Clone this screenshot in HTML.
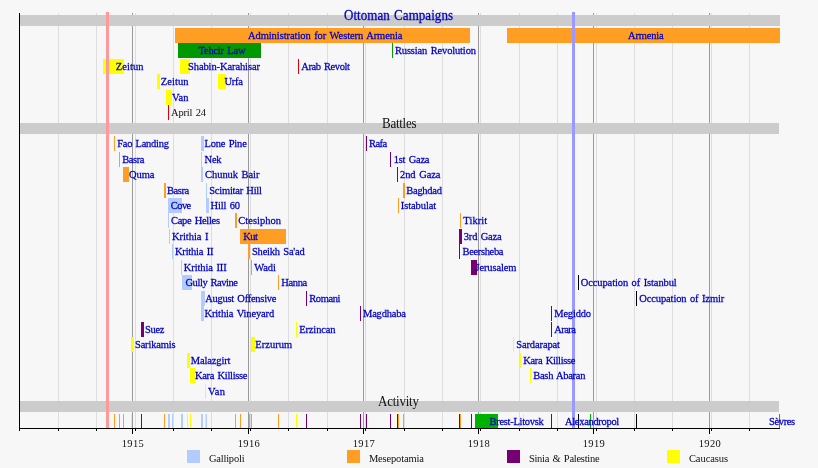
<!DOCTYPE html>
<html><head><meta charset="utf-8"><title>Ottoman Campaigns</title>
<style>
html,body{margin:0;padding:0;background:#f7f7f7;}
body{width:818px;height:468px;overflow:hidden;}
svg{display:block;font-family:"Liberation Serif",serif;word-spacing:1px;}
rect{shape-rendering:crispEdges;}
</style></head><body>
<svg width="818" height="468" viewBox="0 0 818 468">
<rect x="0" y="0" width="818" height="468" fill="#f7f7f7"/>
<rect x="58" y="13" width="1" height="415" fill="#dddddd"/>
<rect x="96" y="13" width="1" height="415" fill="#dddddd"/>
<rect x="135" y="13" width="1" height="415" fill="#dddddd"/>
<rect x="173" y="13" width="1" height="415" fill="#dddddd"/>
<rect x="211" y="13" width="1" height="415" fill="#dddddd"/>
<rect x="250" y="13" width="1" height="415" fill="#dddddd"/>
<rect x="288" y="13" width="1" height="415" fill="#dddddd"/>
<rect x="327" y="13" width="1" height="415" fill="#dddddd"/>
<rect x="365" y="13" width="1" height="415" fill="#dddddd"/>
<rect x="404" y="13" width="1" height="415" fill="#dddddd"/>
<rect x="442" y="13" width="1" height="415" fill="#dddddd"/>
<rect x="480" y="13" width="1" height="415" fill="#dddddd"/>
<rect x="519" y="13" width="1" height="415" fill="#dddddd"/>
<rect x="557" y="13" width="1" height="415" fill="#dddddd"/>
<rect x="596" y="13" width="1" height="415" fill="#dddddd"/>
<rect x="634" y="13" width="1" height="415" fill="#dddddd"/>
<rect x="672" y="13" width="1" height="415" fill="#dddddd"/>
<rect x="711" y="13" width="1" height="415" fill="#dddddd"/>
<rect x="749" y="13" width="1" height="415" fill="#dddddd"/>
<rect x="132" y="13" width="1" height="415" fill="#999999"/>
<rect x="248" y="13" width="1" height="415" fill="#999999"/>
<rect x="363" y="13" width="1" height="415" fill="#999999"/>
<rect x="478" y="13" width="1" height="415" fill="#999999"/>
<rect x="593" y="13" width="1" height="415" fill="#999999"/>
<rect x="709" y="13" width="1" height="415" fill="#999999"/>
<rect x="20" y="15" width="760" height="11" fill="#cccccc"/>
<rect x="20" y="123" width="759" height="11" fill="#cccccc"/>
<rect x="20" y="401" width="759" height="11" fill="#cccccc"/>
<rect x="175" y="28" width="295" height="15" fill="#ff9e23"/>
<rect x="507" y="28" width="273" height="15" fill="#ff9e23"/>
<rect x="178" y="43" width="83" height="15" fill="#009900"/>
<rect x="392" y="43" width="1" height="15" fill="#00a000"/>
<rect x="103" y="59" width="21" height="15" fill="#ffff00"/>
<rect x="180" y="59" width="10" height="15" fill="#ffff00"/>
<rect x="298" y="59" width="1" height="15" fill="#e00000"/>
<rect x="157" y="74" width="3" height="15" fill="#ffff00"/>
<rect x="218" y="74" width="8" height="15" fill="#ffff00"/>
<rect x="166" y="90" width="6" height="15" fill="#ffff00"/>
<rect x="168" y="105" width="1" height="15" fill="#e00000"/>
<rect x="114" y="136" width="1" height="15" fill="#ff9e23"/>
<rect x="201" y="136" width="3" height="15" fill="#b2ccff"/>
<rect x="366" y="136" width="1" height="15" fill="#760072"/>
<rect x="119" y="152" width="1" height="15" fill="#ff9e23"/>
<rect x="201" y="152" width="1" height="15" fill="#b2ccff"/>
<rect x="390" y="152" width="1" height="15" fill="#760072"/>
<rect x="123" y="167" width="6" height="15" fill="#ff9e23"/>
<rect x="201" y="167" width="2" height="15" fill="#b2ccff"/>
<rect x="397" y="167" width="1" height="15" fill="#760072"/>
<rect x="164" y="183" width="2" height="15" fill="#ff9e23"/>
<rect x="206" y="183" width="1" height="15" fill="#b2ccff"/>
<rect x="403" y="183" width="2" height="15" fill="#ff9e23"/>
<rect x="168" y="198" width="14" height="15" fill="#b2ccff"/>
<rect x="206" y="198" width="3" height="15" fill="#b2ccff"/>
<rect x="398" y="198" width="1" height="15" fill="#ff9e23"/>
<rect x="168" y="213" width="1" height="15" fill="#b2ccff"/>
<rect x="235" y="213" width="2" height="15" fill="#ff9e23"/>
<rect x="460" y="213" width="1" height="15" fill="#ff9e23"/>
<rect x="169" y="229" width="1" height="15" fill="#b2ccff"/>
<rect x="240" y="229" width="46" height="15" fill="#ff9e23"/>
<rect x="459" y="229" width="3" height="15" fill="#760072"/>
<rect x="172" y="244" width="1" height="15" fill="#b2ccff"/>
<rect x="248" y="244" width="2" height="15" fill="#ff9e23"/>
<rect x="459" y="244" width="1" height="15" fill="#760072"/>
<rect x="181" y="260" width="1" height="15" fill="#b2ccff"/>
<rect x="251" y="260" width="1" height="15" fill="#ff9e23"/>
<rect x="471" y="260" width="6" height="15" fill="#760072"/>
<rect x="182" y="275" width="10" height="15" fill="#b2ccff"/>
<rect x="278" y="275" width="1" height="15" fill="#ff9e23"/>
<rect x="578" y="275" width="1" height="15" fill="#000000"/>
<rect x="201" y="291" width="4" height="15" fill="#b2ccff"/>
<rect x="306" y="291" width="1" height="15" fill="#760072"/>
<rect x="636" y="291" width="1" height="15" fill="#000000"/>
<rect x="201" y="306" width="3" height="15" fill="#b2ccff"/>
<rect x="360" y="306" width="1" height="15" fill="#760072"/>
<rect x="551" y="306" width="1" height="15" fill="#760072"/>
<rect x="141" y="322" width="3" height="15" fill="#760072"/>
<rect x="296" y="322" width="1" height="15" fill="#ffff00"/>
<rect x="551" y="322" width="1" height="15" fill="#760072"/>
<rect x="131" y="337" width="3" height="15" fill="#ffff00"/>
<rect x="251" y="337" width="4" height="15" fill="#ffff00"/>
<rect x="513" y="337" width="1" height="15" fill="#ffff00"/>
<rect x="187" y="353" width="3" height="15" fill="#ffff00"/>
<rect x="520" y="353" width="1" height="15" fill="#ffff00"/>
<rect x="190" y="368" width="5" height="15" fill="#ffff00"/>
<rect x="530" y="368" width="1" height="15" fill="#ffff00"/>
<rect x="205" y="384" width="1" height="15" fill="#ffff00"/>
<rect x="114" y="414" width="1" height="14" fill="#ff9e23"/>
<rect x="119" y="414" width="1" height="14" fill="#ff9e23"/>
<rect x="123" y="414" width="1" height="14" fill="#ff9e23"/>
<rect x="131" y="414" width="1" height="14" fill="#ffff00"/>
<rect x="141" y="414" width="1" height="14" fill="#760072"/>
<rect x="164" y="414" width="1" height="14" fill="#ff9e23"/>
<rect x="168" y="414" width="2" height="14" fill="#b2ccff"/>
<rect x="172" y="414" width="1" height="14" fill="#b2ccff"/>
<rect x="181" y="414" width="2" height="14" fill="#b2ccff"/>
<rect x="187" y="414" width="1" height="14" fill="#ffff00"/>
<rect x="190" y="414" width="1" height="14" fill="#ffff00"/>
<rect x="201" y="414" width="2" height="14" fill="#b2ccff"/>
<rect x="205" y="414" width="1" height="14" fill="#ffff00"/>
<rect x="206" y="414" width="1" height="14" fill="#b2ccff"/>
<rect x="235" y="414" width="1" height="14" fill="#ff9e23"/>
<rect x="240" y="414" width="1" height="14" fill="#ff9e23"/>
<rect x="249" y="414" width="1" height="14" fill="#ff9e23"/>
<rect x="251" y="414" width="1" height="14" fill="#ff9e23"/>
<rect x="278" y="414" width="1" height="14" fill="#ff9e23"/>
<rect x="296" y="414" width="1" height="14" fill="#ffff00"/>
<rect x="306" y="414" width="1" height="14" fill="#760072"/>
<rect x="360" y="414" width="1" height="14" fill="#760072"/>
<rect x="366" y="414" width="1" height="14" fill="#760072"/>
<rect x="390" y="414" width="1" height="14" fill="#760072"/>
<rect x="397" y="414" width="1" height="14" fill="#760072"/>
<rect x="398" y="414" width="1" height="14" fill="#ff9e23"/>
<rect x="403" y="414" width="1" height="14" fill="#ff9e23"/>
<rect x="459" y="414" width="1" height="14" fill="#760072"/>
<rect x="460" y="414" width="1" height="14" fill="#ff9e23"/>
<rect x="471" y="414" width="1" height="14" fill="#760072"/>
<rect x="475" y="414" width="23" height="14" fill="#00b200"/>
<rect x="523" y="414" width="1" height="14" fill="#ffff00"/>
<rect x="551" y="414" width="1" height="14" fill="#760072"/>
<rect x="578" y="414" width="1" height="14" fill="#000000"/>
<rect x="590" y="414" width="1" height="14" fill="#00b200"/>
<rect x="636" y="414" width="1" height="14" fill="#000000"/>
<rect x="779" y="414" width="1" height="14" fill="#00b200"/>
<rect x="106" y="12" width="3" height="416" fill="#ff9999"/>
<rect x="572" y="12" width="3" height="416" fill="#9999ff"/>
<rect x="19" y="13" width="1" height="416" fill="#000"/>
<rect x="19" y="428" width="761" height="1" fill="#000"/>
<rect x="58" y="429" width="1" height="2" fill="#000"/>
<rect x="96" y="429" width="1" height="2" fill="#000"/>
<rect x="135" y="429" width="1" height="2" fill="#000"/>
<rect x="173" y="429" width="1" height="2" fill="#000"/>
<rect x="211" y="429" width="1" height="2" fill="#000"/>
<rect x="250" y="429" width="1" height="2" fill="#000"/>
<rect x="288" y="429" width="1" height="2" fill="#000"/>
<rect x="327" y="429" width="1" height="2" fill="#000"/>
<rect x="365" y="429" width="1" height="2" fill="#000"/>
<rect x="404" y="429" width="1" height="2" fill="#000"/>
<rect x="442" y="429" width="1" height="2" fill="#000"/>
<rect x="480" y="429" width="1" height="2" fill="#000"/>
<rect x="519" y="429" width="1" height="2" fill="#000"/>
<rect x="557" y="429" width="1" height="2" fill="#000"/>
<rect x="596" y="429" width="1" height="2" fill="#000"/>
<rect x="634" y="429" width="1" height="2" fill="#000"/>
<rect x="672" y="429" width="1" height="2" fill="#000"/>
<rect x="711" y="429" width="1" height="2" fill="#000"/>
<rect x="749" y="429" width="1" height="2" fill="#000"/>
<rect x="132" y="429" width="1" height="5" fill="#000"/>
<rect x="248" y="429" width="1" height="5" fill="#000"/>
<rect x="363" y="429" width="1" height="5" fill="#000"/>
<rect x="478" y="429" width="1" height="5" fill="#000"/>
<rect x="593" y="429" width="1" height="5" fill="#000"/>
<rect x="709" y="429" width="1" height="5" fill="#000"/>
<rect x="19" y="429" width="1" height="2" fill="#000"/>
<text transform="translate(248 39) scale(1 1.07)" fill="#0000c0" stroke="#0000c0" stroke-width="0.25" font-size="10.5" textLength="154.5" lengthAdjust="spacing">Administration for Western Armenia</text>
<text transform="translate(628 39) scale(1 1.07)" fill="#0000c0" stroke="#0000c0" stroke-width="0.25" font-size="10.5" textLength="35.75" lengthAdjust="spacing">Armenia</text>
<text transform="translate(198.5 54) scale(1 1.07)" fill="#0000c0" stroke="#0000c0" stroke-width="0.25" font-size="10.5" textLength="47.0" lengthAdjust="spacing">Tehcir Law</text>
<text transform="translate(395 54) scale(1 1.07)" fill="#0000c0" stroke="#0000c0" stroke-width="0.25" font-size="10.5" textLength="81.0" lengthAdjust="spacing">Russian Revolution</text>
<text transform="translate(115.75 70) scale(1 1.07)" fill="#0000c0" stroke="#0000c0" stroke-width="0.25" font-size="10.5" textLength="27.75" lengthAdjust="spacing">Zeitun</text>
<text transform="translate(188 70) scale(1 1.07)" fill="#0000c0" stroke="#0000c0" stroke-width="0.25" font-size="10.5" textLength="72.0" lengthAdjust="spacing">Shabin-Karahisar</text>
<text transform="translate(301.25 70) scale(1 1.07)" fill="#0000c0" stroke="#0000c0" stroke-width="0.25" font-size="10.5" textLength="48.75" lengthAdjust="spacing">Arab Revolt</text>
<text transform="translate(160.75 85) scale(1 1.07)" fill="#0000c0" stroke="#0000c0" stroke-width="0.25" font-size="10.5" textLength="27.75" lengthAdjust="spacing">Zeitun</text>
<text transform="translate(224.5 85) scale(1 1.07)" fill="#0000c0" stroke="#0000c0" stroke-width="0.25" font-size="10.5" textLength="18.5" lengthAdjust="spacing">Urfa</text>
<text transform="translate(172 101) scale(1 1.07)" fill="#0000c0" stroke="#0000c0" stroke-width="0.25" font-size="10.5" textLength="16.5" lengthAdjust="spacing">Van</text>
<text transform="translate(171 116) scale(1 1.07)" fill="#111111" font-size="10.5" textLength="35.0" lengthAdjust="spacing">April 24</text>
<text transform="translate(117.25 147) scale(1 1.07)" fill="#0000c0" stroke="#0000c0" stroke-width="0.25" font-size="10.5" textLength="51.75" lengthAdjust="spacing">Fao Landing</text>
<text transform="translate(204.5 147) scale(1 1.07)" fill="#0000c0" stroke="#0000c0" stroke-width="0.25" font-size="10.5" textLength="42.3" lengthAdjust="spacing">Lone Pine</text>
<text transform="translate(369 147) scale(1 1.07)" fill="#0000c0" stroke="#0000c0" stroke-width="0.25" font-size="10.5" textLength="18.25" lengthAdjust="spacing">Rafa</text>
<text transform="translate(122.25 163) scale(1 1.07)" fill="#0000c0" stroke="#0000c0" stroke-width="0.25" font-size="10.5" textLength="22.25" lengthAdjust="spacing">Basra</text>
<text transform="translate(204.6 163) scale(1 1.07)" fill="#0000c0" stroke="#0000c0" stroke-width="0.25" font-size="10.5" textLength="17.0" lengthAdjust="spacing">Nek</text>
<text transform="translate(393.75 163) scale(1 1.07)" fill="#0000c0" stroke="#0000c0" stroke-width="0.25" font-size="10.5" textLength="35.75" lengthAdjust="spacing">1st Gaza</text>
<text transform="translate(129 178) scale(1 1.07)" fill="#0000c0" stroke="#0000c0" stroke-width="0.25" font-size="10.5" textLength="25.5" lengthAdjust="spacing">Quma</text>
<text transform="translate(205.1 178) scale(1 1.07)" fill="#0000c0" stroke="#0000c0" stroke-width="0.25" font-size="10.5" textLength="54.3" lengthAdjust="spacing">Chunuk Bair</text>
<text transform="translate(400 178) scale(1 1.07)" fill="#0000c0" stroke="#0000c0" stroke-width="0.25" font-size="10.5" textLength="40.5" lengthAdjust="spacing">2nd Gaza</text>
<text transform="translate(167 194) scale(1 1.07)" fill="#0000c0" stroke="#0000c0" stroke-width="0.25" font-size="10.5" textLength="22.25" lengthAdjust="spacing">Basra</text>
<text transform="translate(209.25 194) scale(1 1.07)" fill="#0000c0" stroke="#0000c0" stroke-width="0.25" font-size="10.5" textLength="52.75" lengthAdjust="spacing">Scimitar Hill</text>
<text transform="translate(406.25 194) scale(1 1.07)" fill="#0000c0" stroke="#0000c0" stroke-width="0.25" font-size="10.5" textLength="35.75" lengthAdjust="spacing">Baghdad</text>
<text transform="translate(170.75 209) scale(1 1.07)" fill="#0000c0" stroke="#0000c0" stroke-width="0.25" font-size="10.5" textLength="20.5" lengthAdjust="spacing">Cove</text>
<text transform="translate(210.5 209) scale(1 1.07)" fill="#0000c0" stroke="#0000c0" stroke-width="0.25" font-size="10.5" textLength="29.5" lengthAdjust="spacing">Hill 60</text>
<text transform="translate(400.75 209) scale(1 1.07)" fill="#0000c0" stroke="#0000c0" stroke-width="0.25" font-size="10.5" textLength="35.5" lengthAdjust="spacing">Istabulat</text>
<text transform="translate(171 224) scale(1 1.07)" fill="#0000c0" stroke="#0000c0" stroke-width="0.25" font-size="10.5" textLength="49.0" lengthAdjust="spacing">Cape Helles</text>
<text transform="translate(238.25 224) scale(1 1.07)" fill="#0000c0" stroke="#0000c0" stroke-width="0.25" font-size="10.5" textLength="42.75" lengthAdjust="spacing">Ctesiphon</text>
<text transform="translate(463.25 224) scale(1 1.07)" fill="#0000c0" stroke="#0000c0" stroke-width="0.25" font-size="10.5" textLength="24.0" lengthAdjust="spacing">Tikrit</text>
<text transform="translate(172 240) scale(1 1.07)" fill="#0000c0" stroke="#0000c0" stroke-width="0.25" font-size="10.5" textLength="36.5" lengthAdjust="spacing">Krithia I</text>
<text transform="translate(243.25 240) scale(1 1.07)" fill="#0000c0" stroke="#0000c0" stroke-width="0.25" font-size="10.5" textLength="14.75" lengthAdjust="spacing">Kut</text>
<text transform="translate(463.75 240) scale(1 1.07)" fill="#0000c0" stroke="#0000c0" stroke-width="0.25" font-size="10.5" textLength="38.0" lengthAdjust="spacing">3rd Gaza</text>
<text transform="translate(175 255) scale(1 1.07)" fill="#0000c0" stroke="#0000c0" stroke-width="0.25" font-size="10.5" textLength="38.5" lengthAdjust="spacing">Krithia II</text>
<text transform="translate(252 255) scale(1 1.07)" fill="#0000c0" stroke="#0000c0" stroke-width="0.25" font-size="10.5" textLength="52.75" lengthAdjust="spacing">Sheikh Sa'ad</text>
<text transform="translate(462.5 255) scale(1 1.07)" fill="#0000c0" stroke="#0000c0" stroke-width="0.25" font-size="10.5" textLength="41.0" lengthAdjust="spacing">Beersheba</text>
<text transform="translate(183.75 271) scale(1 1.07)" fill="#0000c0" stroke="#0000c0" stroke-width="0.25" font-size="10.5" textLength="43.0" lengthAdjust="spacing">Krithia III</text>
<text transform="translate(254.25 271) scale(1 1.07)" fill="#0000c0" stroke="#0000c0" stroke-width="0.25" font-size="10.5" textLength="21.75" lengthAdjust="spacing">Wadi</text>
<text transform="translate(475.5 271) scale(1 1.07)" fill="#0000c0" stroke="#0000c0" stroke-width="0.25" font-size="10.5" textLength="41.0" lengthAdjust="spacing">Jerusalem</text>
<text transform="translate(185.5 286) scale(1 1.07)" fill="#0000c0" stroke="#0000c0" stroke-width="0.25" font-size="10.5" textLength="52.5" lengthAdjust="spacing">Gully Ravine</text>
<text transform="translate(281.25 286) scale(1 1.07)" fill="#0000c0" stroke="#0000c0" stroke-width="0.25" font-size="10.5" textLength="26.0" lengthAdjust="spacing">Hanna</text>
<text transform="translate(580.75 286) scale(1 1.07)" fill="#0000c0" stroke="#0000c0" stroke-width="0.25" font-size="10.5" textLength="96.0" lengthAdjust="spacing">Occupation of Istanbul</text>
<text transform="translate(205.2 302) scale(1 1.07)" fill="#0000c0" stroke="#0000c0" stroke-width="0.25" font-size="10.5" textLength="71.3" lengthAdjust="spacing">August Offensive</text>
<text transform="translate(309.25 302) scale(1 1.07)" fill="#0000c0" stroke="#0000c0" stroke-width="0.25" font-size="10.5" textLength="31.25" lengthAdjust="spacing">Romani</text>
<text transform="translate(639.25 302) scale(1 1.07)" fill="#0000c0" stroke="#0000c0" stroke-width="0.25" font-size="10.5" textLength="85.0" lengthAdjust="spacing">Occupation of Izmir</text>
<text transform="translate(204.5 317) scale(1 1.07)" fill="#0000c0" stroke="#0000c0" stroke-width="0.25" font-size="10.5" textLength="69.75" lengthAdjust="spacing">Krithia Vineyard</text>
<text transform="translate(363 317) scale(1 1.07)" fill="#0000c0" stroke="#0000c0" stroke-width="0.25" font-size="10.5" textLength="43.0" lengthAdjust="spacing">Magdhaba</text>
<text transform="translate(554.25 317) scale(1 1.07)" fill="#0000c0" stroke="#0000c0" stroke-width="0.25" font-size="10.5" textLength="36.75" lengthAdjust="spacing">Megiddo</text>
<text transform="translate(145 333) scale(1 1.07)" fill="#0000c0" stroke="#0000c0" stroke-width="0.25" font-size="10.5" textLength="19.5" lengthAdjust="spacing">Suez</text>
<text transform="translate(299.25 333) scale(1 1.07)" fill="#0000c0" stroke="#0000c0" stroke-width="0.25" font-size="10.5" textLength="36.25" lengthAdjust="spacing">Erzincan</text>
<text transform="translate(554.25 333) scale(1 1.07)" fill="#0000c0" stroke="#0000c0" stroke-width="0.25" font-size="10.5" textLength="21.75" lengthAdjust="spacing">Arara</text>
<text transform="translate(135 348) scale(1 1.07)" fill="#0000c0" stroke="#0000c0" stroke-width="0.25" font-size="10.5" textLength="40.5" lengthAdjust="spacing">Sarikamis</text>
<text transform="translate(255.25 348) scale(1 1.07)" fill="#0000c0" stroke="#0000c0" stroke-width="0.25" font-size="10.5" textLength="37.0" lengthAdjust="spacing">Erzurum</text>
<text transform="translate(516.25 348) scale(1 1.07)" fill="#0000c0" stroke="#0000c0" stroke-width="0.25" font-size="10.5" textLength="43.75" lengthAdjust="spacing">Sardarapat</text>
<text transform="translate(190.75 364) scale(1 1.07)" fill="#0000c0" stroke="#0000c0" stroke-width="0.25" font-size="10.5" textLength="39.75" lengthAdjust="spacing">Malazgirt</text>
<text transform="translate(523.25 364) scale(1 1.07)" fill="#0000c0" stroke="#0000c0" stroke-width="0.25" font-size="10.5" textLength="52.25" lengthAdjust="spacing">Kara Killisse</text>
<text transform="translate(195 379) scale(1 1.07)" fill="#0000c0" stroke="#0000c0" stroke-width="0.25" font-size="10.5" textLength="52.5" lengthAdjust="spacing">Kara Killisse</text>
<text transform="translate(533.25 379) scale(1 1.07)" fill="#0000c0" stroke="#0000c0" stroke-width="0.25" font-size="10.5" textLength="52.25" lengthAdjust="spacing">Bash Abaran</text>
<text transform="translate(208 395) scale(1 1.07)" fill="#0000c0" stroke="#0000c0" stroke-width="0.25" font-size="10.5" textLength="17.0" lengthAdjust="spacing">Van</text>
<text transform="translate(489.5 424.5) scale(1 1.07)" fill="#0000c0" stroke="#0000c0" stroke-width="0.25" font-size="10.5" textLength="54.25" lengthAdjust="spacing">Brest-Litovsk</text>
<text transform="translate(565 424.5) scale(1 1.07)" fill="#0000c0" stroke="#0000c0" stroke-width="0.25" font-size="10.5" textLength="54.25" lengthAdjust="spacing">Alexandropol</text>
<text transform="translate(769.1 424.5) scale(1 1.07)" fill="#0000c0" stroke="#0000c0" stroke-width="0.25" font-size="10.5" textLength="26.1" lengthAdjust="spacing">Sèvres</text>
<text transform="translate(344 20) scale(1 1.07)" fill="#0000c0" stroke="#0000c0" stroke-width="0.25" font-size="13" textLength="109" lengthAdjust="spacing">Ottoman Campaigns</text>
<text transform="translate(382 127.5) scale(1 1.07)" fill="#111111" font-size="13" textLength="34.5" lengthAdjust="spacing">Battles</text>
<text transform="translate(378 405.5) scale(1 1.07)" fill="#111111" font-size="13" textLength="41" lengthAdjust="spacing">Activity</text>
<text transform="translate(121.8 447) scale(1 1.07)" fill="#111111" font-size="10.5" textLength="21.9" lengthAdjust="spacing">1915</text>
<text transform="translate(237.8 447) scale(1 1.07)" fill="#111111" font-size="10.5" textLength="21.9" lengthAdjust="spacing">1916</text>
<text transform="translate(352.8 447) scale(1 1.07)" fill="#111111" font-size="10.5" textLength="21.9" lengthAdjust="spacing">1917</text>
<text transform="translate(467.8 447) scale(1 1.07)" fill="#111111" font-size="10.5" textLength="21.9" lengthAdjust="spacing">1918</text>
<text transform="translate(582.8 447) scale(1 1.07)" fill="#111111" font-size="10.5" textLength="21.9" lengthAdjust="spacing">1919</text>
<text transform="translate(698.8 447) scale(1 1.07)" fill="#111111" font-size="10.5" textLength="21.9" lengthAdjust="spacing">1920</text>
<rect x="187" y="450" width="13" height="13" fill="#b2ccff"/>
<text transform="translate(208.9 461.5) scale(1 1.07)" fill="#111111" font-size="10.5" textLength="35.7" lengthAdjust="spacing">Gallipoli</text>
<rect x="347" y="450" width="13" height="13" fill="#ff9e23"/>
<text transform="translate(368.9 461.5) scale(1 1.07)" fill="#111111" font-size="10.5" textLength="55.0" lengthAdjust="spacing">Mesepotamia</text>
<rect x="507" y="450" width="13" height="13" fill="#760072"/>
<text transform="translate(528.9 461.5) scale(1 1.07)" fill="#111111" font-size="10.5" textLength="70.75" lengthAdjust="spacing">Sinia &amp; Palestine</text>
<rect x="667" y="450" width="13" height="13" fill="#ffff00"/>
<text transform="translate(688.9 461.5) scale(1 1.07)" fill="#111111" font-size="10.5" textLength="39.25" lengthAdjust="spacing">Caucasus</text>
</svg>
</body></html>
